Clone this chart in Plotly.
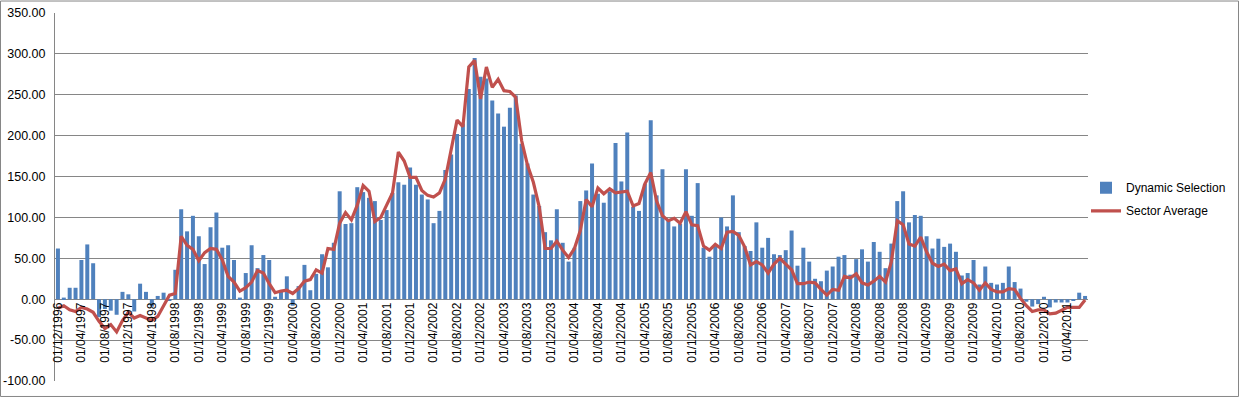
import pandas as pd
import plotly.graph_objects as go

months = [d.strftime("01/%m/%Y") for d in pd.date_range("1996-12-01", periods=176, freq="MS")]

dynamic_selection = [
    62, 2, 14, 14, 48, 67, 44, -22, -12, -14, -19, 9, 6, -15, 19, 9, -9, 4, 8, -2,
    36, 110, 83, 102, 77, 43, 88, 106, 63, 66, 48, 2, 32, 66, 38, 54, 48, 3, 10, 28,
    -8, 16, 42, 11, 31, 55, 39, 69, 132, 92, 93, 137, 131, 124, 120, 97, 109, 130, 143, 140,
    161, 140, 128, 122, 93, 108, 158, 177, 202, 215, 257, 295, 272, 270, 243, 227, 211, 234, 249, 190,
    166, 128, 114, 82, 72, 110, 69, 46, 63, 120, 133, 166, 129, 118, 132, 191, 144, 204, 113, 108,
    141, 219, 127, 159, 97, 89, 92, 159, 102, 142, 63, 52, 65, 100, 89, 127, 82, 65, 59, 94,
    63, 75, 55, 54, 60, 84, 41, 63, 46, 25, 22, 35, 40, 52, 54, 30, 49, 61, 46, 70,
    58, 38, 68, 120, 132, 94, 103, 102, 77, 62, 74, 64, 68, 58, 29, 32, 48, 18, 40, 20,
    18, 20, 40, 21, 13, -3, -9, -6, 3, -10, -4, -4, -4, -2, 8, 4,
]

sector_average = [
    -11, -8, -13, -15, -10, -12, -16, -27, -36, -31, -40, -26, -16, -23, -20, -23, -26, -21, -8, 5,
    7, 77, 66, 61, 47, 57, 62, 61, 48, 28, 21, 10, 14, 21, 35, 32, 19, 8, 10, 11,
    7, 13, 22, 24, 36, 32, 62, 61, 93, 106, 97, 115, 139, 132, 95, 100, 115, 130, 180, 169,
    149, 149, 133, 127, 125, 130, 147, 182, 219, 211, 284, 292, 245, 284, 259, 269, 255, 254, 247, 194,
    164, 143, 113, 62, 62, 71, 60, 51, 62, 84, 122, 113, 136, 129, 135, 130, 131, 132, 114, 117,
    141, 155, 120, 102, 96, 99, 93, 107, 91, 90, 65, 60, 67, 62, 82, 83, 78, 64, 42, 46,
    42, 32, 43, 50, 43, 36, 19, 19, 21, 20, 12, 5, 12, 11, 28, 26, 31, 20, 17.5, 22,
    28, 21, 46, 96, 91, 67.5, 65, 76, 58, 44, 40, 43, 35, 37, 19, 24, 20, 11, 20, 12,
    9, 9, 13, 12, 1, -8, -15, -13, -13, -18, -17, -13, -10, -10, -10, -1,
]

tick_labels = [
    "01/12/1996", "01/04/1997", "01/08/1997", "01/12/1997", "01/04/1998", "01/08/1998",
    "01/12/1998", "01/04/1999", "01/08/1999", "01/12/1999", "01/04/2000", "01/08/2000",
    "01/12/2000", "01/04/2001", "01/08/2001", "01/12/2001", "01/04/2002", "01/08/2002",
    "01/12/2002", "01/04/2003", "01/08/2003", "01/12/2003", "01/04/2004", "01/08/2004",
    "01/12/2004", "01/04/2005", "01/08/2005", "01/12/2005", "01/04/2006", "01/08/2006",
    "01/12/2006", "01/04/2007", "01/08/2007", "01/12/2007", "01/04/2008", "01/08/2008",
    "01/12/2008", "01/04/2009", "01/08/2009", "01/12/2009", "01/04/2010", "01/08/2010",
    "01/12/2010", "01/04/2011",
]

y_ticks = [-100, -50, 0, 50, 100, 150, 200, 250, 300, 350]

FONT = "Liberation Sans"
GRID = "#868686"

fig = go.Figure()
fig.add_trace(go.Bar(x=months, y=dynamic_selection, name="Dynamic Selection", legendgroup="a",
                     marker=dict(color="#4F81BD", line=dict(width=0))))
fig.add_trace(go.Scatter(x=months, y=sector_average, name="Sector Average", mode="lines",
                         legendgroup="b", line=dict(color="#C0504D", width=3.2)))

W, H = 1239, 397
L, R, T, B = 55, 1088, 12.5, 381
pw, ph = R - L, B - T

fig.update_layout(
    width=W, height=H,
    margin=dict(l=L, r=W - R, t=T, b=H - B, autoexpand=False),
    paper_bgcolor="white", plot_bgcolor="white",
    bargap=0.32,
    font=dict(family=FONT, size=12, color="#000000"),
    showlegend=True,
    legend=dict(x=(1086 - L) / pw, y=(B - 173) / ph, xanchor="left", yanchor="top",
                font=dict(family=FONT, size=12), tracegroupgap=4, bgcolor="rgba(0,0,0,0)"),
    xaxis=dict(
        type="category", categoryorder="array", categoryarray=months,
        tickmode="array", tickvals=months[::4], ticktext=tick_labels,
        tickangle=-90, tickfont=dict(family=FONT, size=12),
        anchor="free", position=100 / 450, automargin=False,
        showgrid=False, showline=False, ticks="", zeroline=False,
        range=[-0.5, len(months) - 0.5],
    ),
    yaxis=dict(
        range=[-100, 350], tickvals=y_ticks, ticktext=[f"{v:.2f}" for v in y_ticks],
        showgrid=True, gridcolor=GRID, gridwidth=1, automargin=False,
        zeroline=True, zerolinecolor=GRID, zerolinewidth=1,
        showline=True, linecolor=GRID, linewidth=1,
        ticks="", tickfont=dict(family=FONT, size=12.5), ticklabelstandoff=6,
    ),
)

# outer chart border
fig.add_shape(type="rect", xref="paper", yref="paper",
              x0=(0.5 - L) / pw, x1=(W - 0.5 - L) / pw,
              y0=(B - (H - 0.5)) / ph, y1=(B - 0.5) / ph,
              line=dict(color=GRID, width=1), fillcolor="rgba(0,0,0,0)", layer="below")

fig.write_html(
    "out.html",
    config={"displayModeBar": False},
    post_script="document.body.style.margin='0';document.body.style.overflow='hidden';",
)
